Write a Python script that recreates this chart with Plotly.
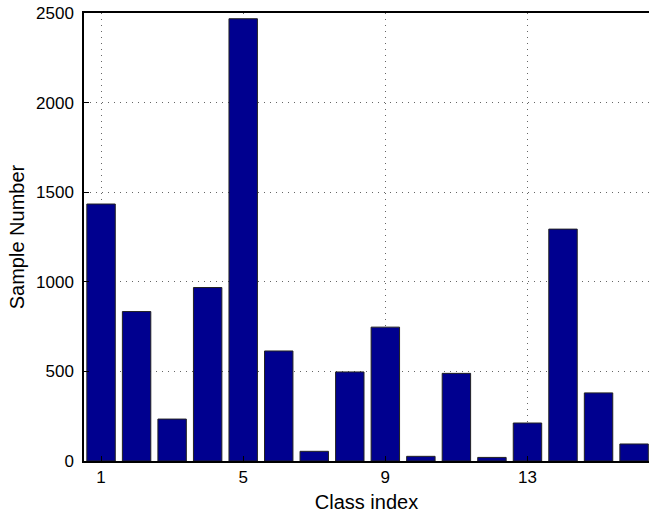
import plotly.graph_objects as go

classes = list(range(1, 17))
samples = [1434, 834, 234, 968, 2468, 614, 54, 497, 747, 26, 489, 20, 212, 1294, 380, 95]
x_ticks = [1, 5, 9, 13]
y_ticks = [0, 500, 1000, 1500, 2000, 2500]

fig = go.Figure()
fig.add_trace(go.Bar(
    x=classes, y=samples, width=0.8,
    marker=dict(color="#00008F", line=dict(color="#222222", width=1)),
))

font = dict(family="Liberation Sans, Arial, sans-serif", size=17, color="black")
fig.update_layout(
    width=649, height=513,
    margin=dict(l=84, r=0, t=13, b=52),
    plot_bgcolor="white", paper_bgcolor="white",
    font=font, showlegend=False,
    xaxis=dict(
        range=[0.52, 16.42], tickvals=x_ticks, ticktext=[str(v) for v in x_ticks],
        showgrid=True, gridcolor="#666666", griddash="1px,5px", gridwidth=1,
        showline=True, linecolor="black", linewidth=1.5, mirror=True,
        ticks="inside", ticklen=5, tickcolor="black",
        title=dict(text="Class index", standoff=9), zeroline=False,
    ),
    yaxis=dict(
        range=[0, 2500], tickvals=y_ticks,
        showgrid=True, gridcolor="#666666", griddash="1px,5px", gridwidth=1,
        showline=True, linecolor="black", linewidth=1.5, mirror=False,
        ticks="inside", ticklen=5, tickcolor="black", ticklabelstandoff=5,
        title=dict(text="Sample Number", standoff=6), zeroline=False,
    ),
    bargap=0.2,
)
fig.write_html("out.html")
